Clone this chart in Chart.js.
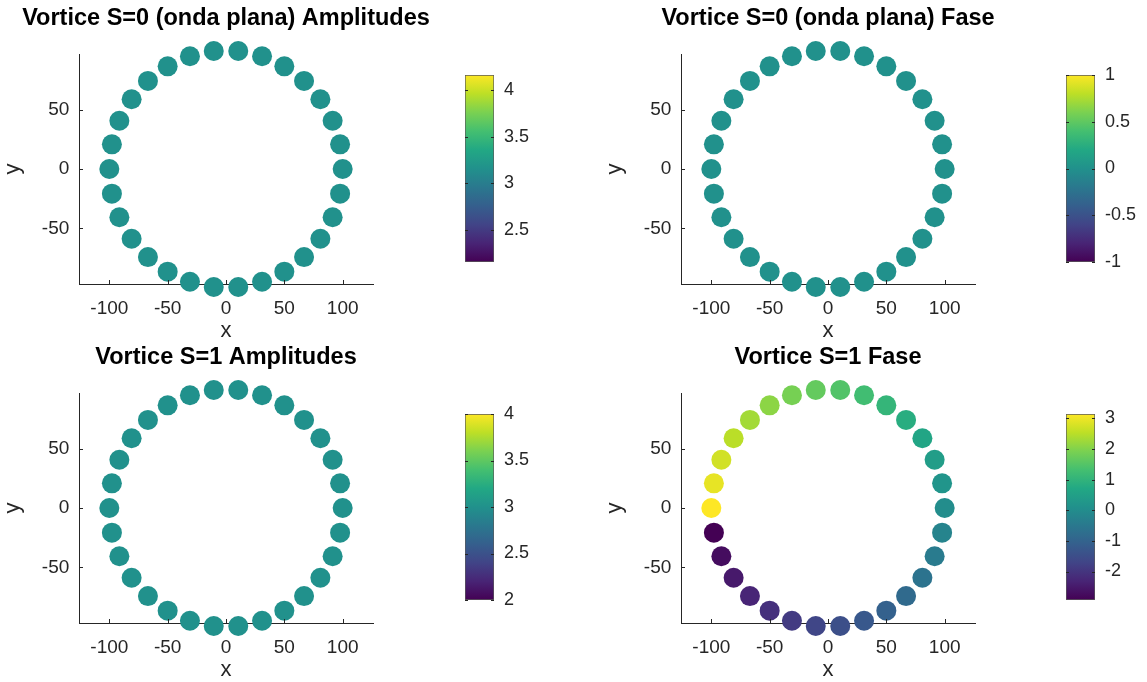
<!DOCTYPE html>
<html>
<head>
<meta charset="utf-8">
<script src="https://cdn.jsdelivr.net/npm/chart.js@4.4.1/dist/chart.umd.min.js"></script>
<style>
html, body { margin: 0; padding: 0; background: #ffffff; }
#fig { position: relative; width: 1147px; height: 682px; overflow: hidden; }
.box { position: absolute; }
</style>
</head>
<body>
<div id="fig">
  <div class="box" style="left:0px;top:0px;width:452px;height:344px"><canvas id="ax1"></canvas></div>
  <div class="box" style="left:602px;top:0px;width:452px;height:344px"><canvas id="ax2"></canvas></div>
  <div class="box" style="left:0px;top:339px;width:452px;height:344px"><canvas id="ax3"></canvas></div>
  <div class="box" style="left:602px;top:339px;width:452px;height:344px"><canvas id="ax4"></canvas></div>
  <div class="box" style="left:465px;top:65px;width:99px;height:207px"><canvas id="cb1"></canvas></div>
  <div class="box" style="left:1066px;top:65px;width:81px;height:207px"><canvas id="cb2"></canvas></div>
  <div class="box" style="left:465px;top:404px;width:99px;height:206px"><canvas id="cb3"></canvas></div>
  <div class="box" style="left:1066px;top:404px;width:81px;height:206px"><canvas id="cb4"></canvas></div>
</div>
<script>
// sensor positions (same ring in all four panels)
const ptX = [100, 97.8, 91.4, 80.9, 66.9, 50, 30.9, 10.5, -10.5, -30.9, -50, -66.9, -80.9, -91.4, -97.8,
             -100, -97.8, -91.4, -80.9, -66.9, -50, -30.9, -10.5, 10.5, 30.9, 50, 66.9, 80.9, 91.4, 97.8];
const ptY = [0, 20.8, 40.7, 58.8, 74.3, 86.6, 95.1, 99.5, 99.5, 95.1, 86.6, 74.3, 58.8, 40.7, 20.8,
             0, -20.8, -40.7, -58.8, -74.3, -86.6, -95.1, -99.5, -99.5, -95.1, -86.6, -74.3, -58.8, -40.7, -20.8];

// values shown by colour
const ampS0 = [3.16, 3.16, 3.16, 3.16, 3.16, 3.16, 3.16, 3.16, 3.16, 3.16, 3.16, 3.16, 3.16, 3.16, 3.16,
               3.16, 3.16, 3.16, 3.16, 3.16, 3.16, 3.16, 3.16, 3.16, 3.16, 3.16, 3.16, 3.16, 3.16, 3.16];
const phaseS0 = [0, 0, 0, 0, 0, 0, 0, 0, 0, 0, 0, 0, 0, 0, 0,
                 0, 0, 0, 0, 0, 0, 0, 0, 0, 0, 0, 0, 0, 0, 0];
const ampS1 = [3, 3, 3, 3, 3, 3, 3, 3, 3, 3, 3, 3, 3, 3, 3,
               3, 3, 3, 3, 3, 3, 3, 3, 3, 3, 3, 3, 3, 3, 3];
const phaseS1 = [0, 0.21, 0.42, 0.63, 0.84, 1.05, 1.26, 1.47, 1.68, 1.88, 2.09, 2.30, 2.51, 2.72, 2.93,
                 3.14, -2.93, -2.72, -2.51, -2.30, -2.09, -1.88, -1.68, -1.47, -1.26, -1.05, -0.84, -0.63, -0.42, -0.21];

// colour limits and tick labels
const climAmpS0 = [2.16, 4.16];
const climPhaseS0 = [-1, 1];
const climAmpS1 = [2, 4];
const climPhaseS1 = [-2.93, 3.14];
const cbTicksAmpS0 = [2.5, 3, 3.5, 4];
const cbTicksPhaseS0 = [-1, -0.5, 0, 0.5, 1];
const cbTicksAmpS1 = [2, 2.5, 3, 3.5, 4];
const cbTicksPhaseS1 = [-2, -1, 0, 1, 2, 3];
const xTicks = [-100, -50, 0, 50, 100];
const yTicks = [-50, 0, 50];

const FONT = "'Liberation Sans', Arial, Helvetica, sans-serif";
const AXIS_COLOR = '#262626';
const viridis = ['#440154', '#482475', '#414487', '#355f8d', '#2a788e', '#21918c',
                 '#22a884', '#44bf70', '#7ad151', '#bddf26', '#fde725'];

function hexToRgb(h) {
    return [parseInt(h.slice(1, 3), 16), parseInt(h.slice(3, 5), 16), parseInt(h.slice(5, 7), 16)];
}

/**
 * Maps a value into the viridis colormap for the given colour limits.
 */
function cmap(v, lo, hi) {
    let t = (v - lo) / (hi - lo);
    t = Math.min(1, Math.max(0, t));
    const p = t * (viridis.length - 1);
    const i = Math.min(Math.floor(p), viridis.length - 2);
    const f = p - i;
    const a = hexToRgb(viridis[i]), b = hexToRgb(viridis[i + 1]);
    const c = a.map((av, k) => Math.round(av + (b[k] - av) * f));
    return 'rgb(' + c.join(',') + ')';
}

// small inward tick marks, Octave style
const inwardTicks = {
    id: 'inwardTicks',
    afterDraw(chart) {
        const ctx = chart.ctx;
        const a = chart.chartArea;
        const sx = chart.scales.x, sy = chart.scales.y;
        ctx.save();
        ctx.strokeStyle = AXIS_COLOR;
        ctx.lineWidth = 1;
        ctx.beginPath();
        sx.ticks.forEach(t => {
            const px = Math.round(sx.getPixelForValue(t.value)) + 0.5;
            ctx.moveTo(px, a.bottom);
            ctx.lineTo(px, a.bottom - 4);
        });
        sy.ticks.forEach(t => {
            const py = Math.round(sy.getPixelForValue(t.value)) + 0.5;
            ctx.moveTo(a.left, py);
            ctx.lineTo(a.left + 4, py);
        });
        ctx.stroke();
        ctx.restore();
    }
};

const colorbarTicks = {
    id: 'colorbarTicks',
    afterDatasetsDraw(chart) {
        const ctx = chart.ctx;
        const a = chart.chartArea;
        const sy = chart.scales.y;
        ctx.save();
        ctx.strokeStyle = AXIS_COLOR;
        ctx.lineWidth = 1;
        ctx.beginPath();
        sy.ticks.forEach(t => {
            const py = Math.round(sy.getPixelForValue(t.value)) + 0.5;
            ctx.moveTo(a.left, py);
            ctx.lineTo(a.left + 3, py);
            ctx.moveTo(a.right, py);
            ctx.lineTo(a.right - 3, py);
        });
        ctx.stroke();
        ctx.restore();
    }
};

function makeScatter(id, title, values, clim) {
    const colors = values.map(v => cmap(v, clim[0], clim[1]));
    return new Chart(document.getElementById(id), {
        type: 'scatter',
        data: {
            datasets: [{
                data: ptX.map((x, i) => ({ x: x, y: ptY[i] })),
                backgroundColor: colors,
                pointBackgroundColor: colors,
                pointBorderWidth: 0,
                pointRadius: 10,
                clip: false
            }]
        },
        options: {
            responsive: true,
            maintainAspectRatio: false,
            animation: false,
            events: [],
            layout: { padding: 0 },
            plugins: {
                legend: { display: false },
                tooltip: { enabled: false },
                title: {
                    display: true,
                    text: title,
                    color: '#000000',
                    font: { family: FONT, size: 23.5, weight: 'bold', lineHeight: 1.2 },
                    padding: { top: 4.9, bottom: 20.9 }
                }
            },
            scales: {
                x: {
                    type: 'linear',
                    min: -126,
                    max: 126,
                    afterBuildTicks: s => { s.ticks = xTicks.map(v => ({ value: v })); },
                    afterFit: s => { s.height = 60; s.paddingLeft = 0; s.paddingRight = 79; },
                    grid: { display: false, drawTicks: false },
                    border: { display: true, color: AXIS_COLOR, width: 1 },
                    ticks: { color: AXIS_COLOR, font: { family: FONT, size: 19 }, padding: 13.4, autoSkip: false, maxRotation: 0 },
                    title: { display: true, text: 'x', color: AXIS_COLOR, font: { family: FONT, size: 22 }, padding: { top: 0, bottom: 0 } }
                },
                y: {
                    type: 'linear',
                    min: -97,
                    max: 97,
                    afterBuildTicks: s => { s.ticks = yTicks.map(v => ({ value: v })); },
                    afterFit: s => { s.width = 79; s.paddingTop = 0; s.paddingBottom = 0; },
                    grid: { display: false, drawTicks: false },
                    border: { display: true, color: AXIS_COLOR, width: 1 },
                    ticks: { color: AXIS_COLOR, font: { family: FONT, size: 19 }, padding: 9.7, autoSkip: false },
                    title: { display: true, text: 'y', color: AXIS_COLOR, font: { family: FONT, size: 22 }, padding: { top: 0, bottom: 0 } }
                }
            }
        },
        plugins: [inwardTicks]
    });
}

function makeColorbar(id, clim, ticks) {
    return new Chart(document.getElementById(id), {
        type: 'bar',
        data: {
            labels: [''],
            datasets: [{
                data: [clim],
                backgroundColor: c => {
                    const a = c.chart.chartArea;
                    if (!a) return viridis[5];
                    const g = c.chart.ctx.createLinearGradient(0, a.bottom, 0, a.top);
                    viridis.forEach((col, i) => g.addColorStop(i / (viridis.length - 1), col));
                    return g;
                },
                borderColor: '#5a5a5a',
                borderWidth: 1,
                borderSkipped: false,
                barPercentage: 1,
                categoryPercentage: 1
            }]
        },
        options: {
            responsive: true,
            maintainAspectRatio: false,
            animation: false,
            events: [],
            layout: { padding: { top: 10, bottom: 10, left: 0, right: 0 } },
            plugins: { legend: { display: false }, tooltip: { enabled: false } },
            scales: {
                x: { display: false },
                y: {
                    position: 'right',
                    min: clim[0],
                    max: clim[1],
                    afterBuildTicks: s => { s.ticks = ticks.map(v => ({ value: v })); },
                    afterFit: s => { s.width = s.chart.width - 29; s.paddingTop = 0; s.paddingBottom = 0; },
                    grid: { display: false, drawTicks: false },
                    border: { display: false },
                    ticks: { color: AXIS_COLOR, font: { family: FONT, size: 18 }, padding: 10, autoSkip: false, callback: v => String(v) }
                }
            }
        },
        plugins: [colorbarTicks]
    });
}

makeScatter('ax1', 'Vortice S=0 (onda plana) Amplitudes', ampS0, climAmpS0);
makeScatter('ax2', 'Vortice S=0 (onda plana) Fase', phaseS0, climPhaseS0);
makeScatter('ax3', 'Vortice S=1 Amplitudes', ampS1, climAmpS1);
makeScatter('ax4', 'Vortice S=1 Fase', phaseS1, climPhaseS1);
makeColorbar('cb1', climAmpS0, cbTicksAmpS0);
makeColorbar('cb2', climPhaseS0, cbTicksPhaseS0);
makeColorbar('cb3', climAmpS1, cbTicksAmpS1);
makeColorbar('cb4', climPhaseS1, cbTicksPhaseS1);
</script>
</body>
</html>
